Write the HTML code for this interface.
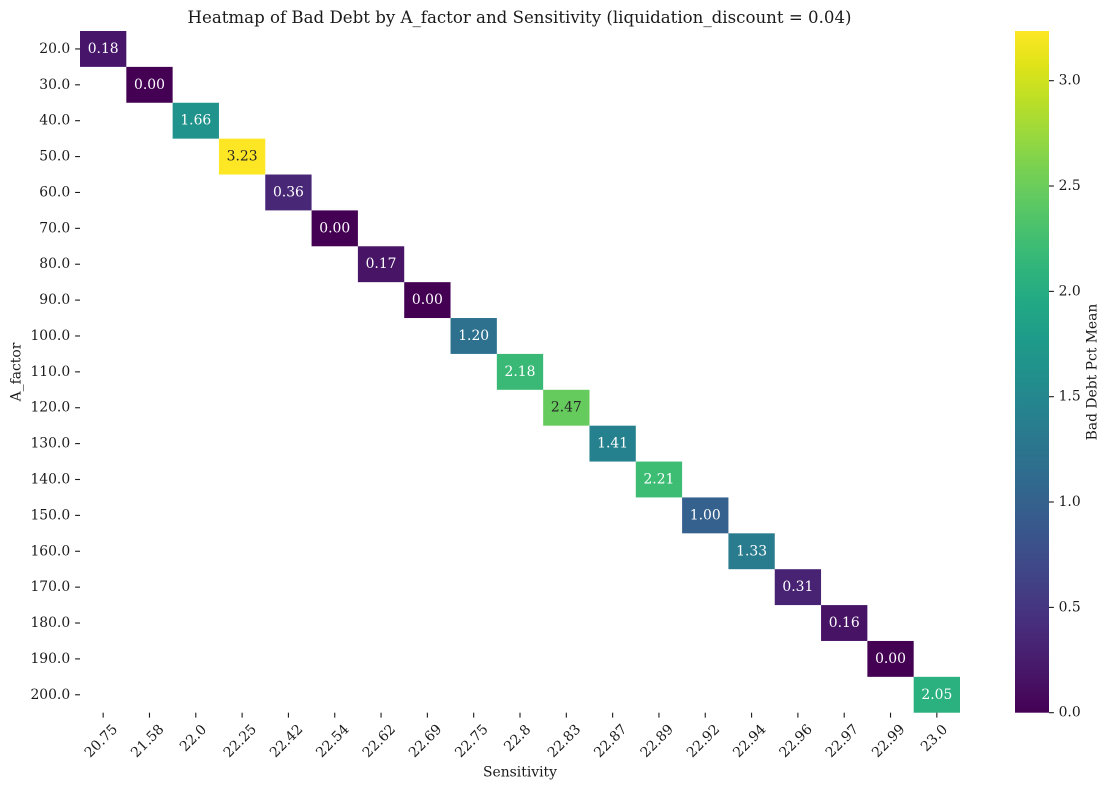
<!DOCTYPE html>
<html>
<head>
<meta charset="utf-8">
<style>
html,body{margin:0;padding:0;background:#fff;}
svg{display:block;}
text{font-family:"DejaVu Serif","Liberation Serif",serif;fill:#1a1a1a;}
</style>
</head>
<body>
<svg width="1110" height="790" viewBox="0 0 1110 790" xmlns="http://www.w3.org/2000/svg">
<defs>
<linearGradient id="vir" x1="0" y1="1" x2="0" y2="0">
<stop offset="0" stop-color="#440154"/>
<stop offset="0.05" stop-color="#471365"/>
<stop offset="0.1" stop-color="#482475"/>
<stop offset="0.15" stop-color="#463480"/>
<stop offset="0.2" stop-color="#414487"/>
<stop offset="0.25" stop-color="#3b528b"/>
<stop offset="0.3" stop-color="#355f8d"/>
<stop offset="0.35" stop-color="#2f6c8e"/>
<stop offset="0.4" stop-color="#2a788e"/>
<stop offset="0.45" stop-color="#25848e"/>
<stop offset="0.5" stop-color="#21918c"/>
<stop offset="0.55" stop-color="#1e9c89"/>
<stop offset="0.6" stop-color="#22a884"/>
<stop offset="0.65" stop-color="#2fb47c"/>
<stop offset="0.7" stop-color="#44bf70"/>
<stop offset="0.75" stop-color="#5ec962"/>
<stop offset="0.8" stop-color="#7ad151"/>
<stop offset="0.85" stop-color="#9bd93c"/>
<stop offset="0.9" stop-color="#bddf26"/>
<stop offset="0.95" stop-color="#dfe318"/>
<stop offset="1" stop-color="#fde725"/>
</linearGradient>
</defs>

<!-- Title -->
<text x="519.5" y="23" font-size="16.67" text-anchor="middle" textLength="664" lengthAdjust="spacingAndGlyphs">Heatmap of Bad Debt by A_factor and Sensitivity (liquidation_discount = 0.04)</text>

<!-- Cells -->
<g>
<rect x="80.00" y="31.00" width="46.32" height="35.88" fill="#47156a"/>
<rect x="126.32" y="66.88" width="46.32" height="35.88" fill="#440154"/>
<rect x="172.63" y="102.76" width="46.32" height="35.88" fill="#20938c"/>
<rect x="218.95" y="138.64" width="46.32" height="35.88" fill="#fde725"/>
<rect x="265.26" y="174.52" width="46.32" height="35.88" fill="#482777"/>
<rect x="311.58" y="210.40" width="46.32" height="35.88" fill="#440154"/>
<rect x="357.89" y="246.28" width="46.32" height="35.88" fill="#471466"/>
<rect x="404.21" y="282.16" width="46.32" height="35.88" fill="#440154"/>
<rect x="450.53" y="318.04" width="46.32" height="35.88" fill="#2d718e"/>
<rect x="496.84" y="353.92" width="46.32" height="35.88" fill="#3ab976"/>
<rect x="543.16" y="389.80" width="46.32" height="35.88" fill="#66cb5d"/>
<rect x="589.47" y="425.68" width="46.32" height="35.88" fill="#26818e"/>
<rect x="635.79" y="461.56" width="46.32" height="35.88" fill="#3dbc74"/>
<rect x="682.11" y="497.44" width="46.32" height="35.88" fill="#34618d"/>
<rect x="728.42" y="533.32" width="46.32" height="35.88" fill="#297b8e"/>
<rect x="774.74" y="569.20" width="46.32" height="35.88" fill="#482374"/>
<rect x="821.05" y="605.08" width="46.32" height="35.88" fill="#471365"/>
<rect x="867.37" y="640.96" width="46.32" height="35.88" fill="#440154"/>
<rect x="913.68" y="676.84" width="46.32" height="35.88" fill="#2bb07f"/>
</g>

<!-- Cell annotations -->
<g font-size="13.89" text-anchor="middle" dominant-baseline="central">
<text x="103.16" y="48.94" style="fill:#fff">0.18</text>
<text x="149.47" y="84.82" style="fill:#fff">0.00</text>
<text x="195.79" y="120.70" style="fill:#fff">1.66</text>
<text x="242.11" y="156.58" style="fill:#262626">3.23</text>
<text x="288.42" y="192.46" style="fill:#fff">0.36</text>
<text x="334.74" y="228.34" style="fill:#fff">0.00</text>
<text x="381.05" y="264.22" style="fill:#fff">0.17</text>
<text x="427.37" y="300.10" style="fill:#fff">0.00</text>
<text x="473.68" y="335.98" style="fill:#fff">1.20</text>
<text x="520.00" y="371.86" style="fill:#fff">2.18</text>
<text x="566.32" y="407.74" style="fill:#262626">2.47</text>
<text x="612.63" y="443.62" style="fill:#fff">1.41</text>
<text x="658.95" y="479.50" style="fill:#fff">2.21</text>
<text x="705.26" y="515.38" style="fill:#fff">1.00</text>
<text x="751.58" y="551.26" style="fill:#fff">1.33</text>
<text x="797.89" y="587.14" style="fill:#fff">0.31</text>
<text x="844.21" y="623.02" style="fill:#fff">0.16</text>
<text x="890.53" y="658.90" style="fill:#fff">0.00</text>
<text x="936.84" y="694.78" style="fill:#fff">2.05</text>
</g>

<!-- Y ticks -->
<g stroke="#1a1a1a" stroke-width="1.1">
<line x1="75.1" y1="48.94" x2="80" y2="48.94"/>
<line x1="75.1" y1="84.82" x2="80" y2="84.82"/>
<line x1="75.1" y1="120.70" x2="80" y2="120.70"/>
<line x1="75.1" y1="156.58" x2="80" y2="156.58"/>
<line x1="75.1" y1="192.46" x2="80" y2="192.46"/>
<line x1="75.1" y1="228.34" x2="80" y2="228.34"/>
<line x1="75.1" y1="264.22" x2="80" y2="264.22"/>
<line x1="75.1" y1="300.10" x2="80" y2="300.10"/>
<line x1="75.1" y1="335.98" x2="80" y2="335.98"/>
<line x1="75.1" y1="371.86" x2="80" y2="371.86"/>
<line x1="75.1" y1="407.74" x2="80" y2="407.74"/>
<line x1="75.1" y1="443.62" x2="80" y2="443.62"/>
<line x1="75.1" y1="479.50" x2="80" y2="479.50"/>
<line x1="75.1" y1="515.38" x2="80" y2="515.38"/>
<line x1="75.1" y1="551.26" x2="80" y2="551.26"/>
<line x1="75.1" y1="587.14" x2="80" y2="587.14"/>
<line x1="75.1" y1="623.02" x2="80" y2="623.02"/>
<line x1="75.1" y1="658.90" x2="80" y2="658.90"/>
<line x1="75.1" y1="694.78" x2="80" y2="694.78"/>
</g>
<g font-size="13.89" text-anchor="end" dominant-baseline="central">
<text x="70.2" y="48.94">20.0</text>
<text x="70.2" y="84.82">30.0</text>
<text x="70.2" y="120.70">40.0</text>
<text x="70.2" y="156.58">50.0</text>
<text x="70.2" y="192.46">60.0</text>
<text x="70.2" y="228.34">70.0</text>
<text x="70.2" y="264.22">80.0</text>
<text x="70.2" y="300.10">90.0</text>
<text x="70.2" y="335.98">100.0</text>
<text x="70.2" y="371.86">110.0</text>
<text x="70.2" y="407.74">120.0</text>
<text x="70.2" y="443.62">130.0</text>
<text x="70.2" y="479.50">140.0</text>
<text x="70.2" y="515.38">150.0</text>
<text x="70.2" y="551.26">160.0</text>
<text x="70.2" y="587.14">170.0</text>
<text x="70.2" y="623.02">180.0</text>
<text x="70.2" y="658.90">190.0</text>
<text x="70.2" y="694.78">200.0</text>
</g>

<!-- X ticks -->
<g stroke="#1a1a1a" stroke-width="1.1">
<line x1="103.16" y1="712.7" x2="103.16" y2="717.6"/>
<line x1="149.47" y1="712.7" x2="149.47" y2="717.6"/>
<line x1="195.79" y1="712.7" x2="195.79" y2="717.6"/>
<line x1="242.11" y1="712.7" x2="242.11" y2="717.6"/>
<line x1="288.42" y1="712.7" x2="288.42" y2="717.6"/>
<line x1="334.74" y1="712.7" x2="334.74" y2="717.6"/>
<line x1="381.05" y1="712.7" x2="381.05" y2="717.6"/>
<line x1="427.37" y1="712.7" x2="427.37" y2="717.6"/>
<line x1="473.68" y1="712.7" x2="473.68" y2="717.6"/>
<line x1="520.00" y1="712.7" x2="520.00" y2="717.6"/>
<line x1="566.32" y1="712.7" x2="566.32" y2="717.6"/>
<line x1="612.63" y1="712.7" x2="612.63" y2="717.6"/>
<line x1="658.95" y1="712.7" x2="658.95" y2="717.6"/>
<line x1="705.26" y1="712.7" x2="705.26" y2="717.6"/>
<line x1="751.58" y1="712.7" x2="751.58" y2="717.6"/>
<line x1="797.89" y1="712.7" x2="797.89" y2="717.6"/>
<line x1="844.21" y1="712.7" x2="844.21" y2="717.6"/>
<line x1="890.53" y1="712.7" x2="890.53" y2="717.6"/>
<line x1="936.84" y1="712.7" x2="936.84" y2="717.6"/>
</g>
<g font-size="13.89" text-anchor="middle" dominant-baseline="central">
<text transform="translate(101.4,741.2) rotate(-45)">20.75</text>
<text transform="translate(147.7,741.2) rotate(-45)">21.58</text>
<text transform="translate(193.5,738.4) rotate(-45)">22.0</text>
<text transform="translate(240.3,741.2) rotate(-45)">22.25</text>
<text transform="translate(286.6,741.2) rotate(-45)">22.42</text>
<text transform="translate(332.9,741.2) rotate(-45)">22.54</text>
<text transform="translate(379.3,741.2) rotate(-45)">22.62</text>
<text transform="translate(425.6,741.2) rotate(-45)">22.69</text>
<text transform="translate(471.9,741.2) rotate(-45)">22.75</text>
<text transform="translate(517.7,738.4) rotate(-45)">22.8</text>
<text transform="translate(564.5,741.2) rotate(-45)">22.83</text>
<text transform="translate(610.8,741.2) rotate(-45)">22.87</text>
<text transform="translate(657.2,741.2) rotate(-45)">22.89</text>
<text transform="translate(703.5,741.2) rotate(-45)">22.92</text>
<text transform="translate(749.8,741.2) rotate(-45)">22.94</text>
<text transform="translate(796.1,741.2) rotate(-45)">22.96</text>
<text transform="translate(842.4,741.2) rotate(-45)">22.97</text>
<text transform="translate(888.7,741.2) rotate(-45)">22.99</text>
<text transform="translate(934.5,738.4) rotate(-45)">23.0</text>
</g>

<!-- Axis labels -->
<text x="520" y="776.5" font-size="13.89" text-anchor="middle">Sensitivity</text>
<text transform="translate(20.3,372) rotate(-90)" font-size="13.89" text-anchor="middle">A_factor</text>

<!-- Colorbar -->
<rect x="1015" y="31" width="34" height="681.7" fill="url(#vir)"/>
<g stroke="#1a1a1a" stroke-width="1.1">
<line x1="1049" y1="712.7" x2="1053.9" y2="712.7"/>
<line x1="1049" y1="607.4" x2="1053.9" y2="607.4"/>
<line x1="1049" y1="502.0" x2="1053.9" y2="502.0"/>
<line x1="1049" y1="396.7" x2="1053.9" y2="396.7"/>
<line x1="1049" y1="291.4" x2="1053.9" y2="291.4"/>
<line x1="1049" y1="186.0" x2="1053.9" y2="186.0"/>
<line x1="1049" y1="80.7" x2="1053.9" y2="80.7"/>
</g>
<g font-size="13.89" text-anchor="start" dominant-baseline="central">
<text x="1058.6" y="712.7">0.0</text>
<text x="1058.6" y="607.4">0.5</text>
<text x="1058.6" y="502.0">1.0</text>
<text x="1058.6" y="396.7">1.5</text>
<text x="1058.6" y="291.4">2.0</text>
<text x="1058.6" y="186.0">2.5</text>
<text x="1058.6" y="80.7">3.0</text>
</g>
<text transform="translate(1096.3,372) rotate(-90)" font-size="13.89" text-anchor="middle">Bad Debt Pct Mean</text>
</svg>
</body>
</html>
